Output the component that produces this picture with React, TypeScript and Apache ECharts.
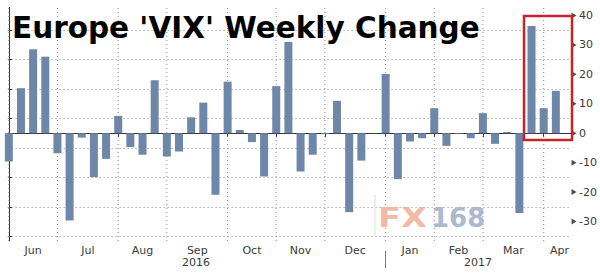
import React, { useEffect, useRef } from "react";
import * as echarts from "echarts";

// Weekly change values (one per week, early Jun 2016 -> early Apr 2017)
const weeklyChange: number[] = [
  -9.6, 15.3, 28.5, 26, -6.8, -29.6, -1.5, -14.9, -8.7, 5.9, -4.7, -7.3, 18,
  -7.9, -6.2, 5.4, 10.4, -20.9, 17.5, 1.1, -3, -14.7, 16, 31, -13, -7.3, -0.3,
  11, -26.8, -9.3, 0.1, 20.1, -15.6, -2.8, -1.7, 8.5, -4.3, -0.2, -1.7, 6.8,
  -3.6, 0.4, -27.1, 36.4, 8.5, 14.4,
];

// Week index of the first bar in each month (tick positions)
const monthTicks: number[] = [0, 4, 9, 13, 18, 22, 26, 31, 35, 39, 44];
const monthNames: string[] = ["Jun", "Jul", "Aug", "Sep", "Oct", "Nov", "Dec", "Jan", "Feb", "Mar", "Apr"];
const monthLabelPos: number[] = [2, 6.5, 11, 15.5, 20, 24, 28.5, 33, 37, 41.5, 45.3];
const yearNames: string[] = ["2016", "2017"];
const yearLabelPos: number[] = [15.4, 38.6];
const yearSplit: number[] = [31];

const yMajor: number[] = [-30, -20, -10, 0, 10, 20, 30, 40];
const yMinor: number[] = [-35, -25, -15, -5, 5, 15, 25, 35];

const X_MIN = -0.1;
const X_MAX = 46.25;
const Y_MIN = -36.6;
const Y_MAX = 42.7;

const FONT = "DejaVu Sans";
const GRID_COLOR = "#8c8c8c";

export default function App() {
  const ref = useRef<HTMLDivElement>(null);
  useEffect(() => {
    if (!ref.current) return;
    const chart = echarts.init(ref.current, undefined, { renderer: "svg" });
    const dotted = { type: [1, 3] as number[], color: GRID_COLOR, width: 1 };
    const gridSeries = monthTicks.map((v) => ({
      type: "line",
      z: 1,
      silent: true,
      symbol: "none",
      xAxisIndex: 0,
      yAxisIndex: 0,
      lineStyle: { color: GRID_COLOR, width: 1, type: [1, 3] },
      data: [
        [v, Y_MIN],
        [v, Y_MAX],
      ],
    }));
    chart.setOption({
      animation: false,
      backgroundColor: "#ffffff",
      grid: { left: 7.6, right: 27, top: 7.5, bottom: 32, containLabel: false },
      xAxis: [
        {
          type: "value",
          min: X_MIN,
          max: X_MAX,
          position: "bottom",
          axisLine: { show: true, lineStyle: { color: "#333", width: 1 } },
          axisTick: { show: true, customValues: monthTicks, length: 4, lineStyle: { color: "#333" } },
          axisLabel: {
            customValues: monthLabelPos,
            formatter: (v: number) => {
              const i = monthLabelPos.findIndex((p) => Math.abs(p - v) < 1e-6);
              return i >= 0 ? monthNames[i] : "";
            },
            margin: 4,
            color: "#3a3a3a",
            fontSize: 11,
            fontFamily: FONT,
          },
          splitLine: { show: false },
        },
        {
          type: "value",
          min: X_MIN,
          max: X_MAX,
          position: "bottom",
          offset: 10,
          axisLine: { show: false },
          axisTick: { show: true, customValues: yearSplit, length: 17, lineStyle: { color: "#777" } },
          axisLabel: {
            customValues: yearLabelPos,
            formatter: (v: number) => {
              const i = yearLabelPos.findIndex((p) => Math.abs(p - v) < 1e-6);
              return i >= 0 ? yearNames[i] : "";
            },
            margin: 6,
            color: "#3a3a3a",
            fontSize: 11,
            fontFamily: FONT,
          },
          splitLine: { show: false },
        },
      ],
      yAxis: {
        type: "value",
        position: "right",
        min: Y_MIN,
        max: Y_MAX,
        splitNumber: 8,
        axisLine: { show: true, lineStyle: { color: "#333", width: 1 } },
        axisTick: { show: true, customValues: yMinor, length: 3, lineStyle: { color: "#333" } },
        axisLabel: {
          customValues: yMajor,
          margin: 8,
          color: "#3a3a3a",
          fontSize: 11,
          fontFamily: FONT,
        },
        splitLine: { show: true, lineStyle: dotted },
      },
      series: [
        ...gridSeries,
        {
          type: "bar",
          z: 2,
          barWidth: 8,
          itemStyle: { color: "#6e86a8" },
          data: weeklyChange.map((v, i) => [i, v]),
        },
        {
          type: "scatter",
          z: 5,
          clip: false,
          symbol: "triangle",
          symbolRotate: -90,
          symbolSize: [6, 5],
          symbolOffset: [3, 0],
          itemStyle: { color: "#222" },
          silent: true,
          data: yMajor.map((v) => [X_MAX, v]),
        },
      ],
      graphic: [
        {
          type: "text",
          left: 12,
          top: 13,
          z: 10,
          style: {
            text: "Europe 'VIX' Weekly Change",
            font: `bold 29.5px "${FONT}"`,
            fill: "#000",
          },
        },
        {
          type: "rect",
          z: 10,
          shape: { x: 524, y: 16, width: 48, height: 124 },
          style: { fill: "none", stroke: "#c8232b", lineWidth: 2.5 },
        },
        {
          type: "line",
          z: 3,
          shape: { x1: 375, y1: 195, x2: 375, y2: 236 },
          style: { stroke: "#dcdcdc", lineWidth: 1 },
        },
        {
          type: "text",
          z: 3,
          x: 378,
          y: 205,
          scaleX: 1.3,
          style: { text: "FX", font: `bold 26px "${FONT}"`, fill: "#f1b29b", opacity: 0.9 },
        },
        {
          type: "text",
          z: 3,
          x: 431,
          y: 205,
          style: { text: "168", font: `bold 26px "${FONT}"`, fill: "#9fb1c7", opacity: 0.9 },
        },
      ],
    });
    return () => chart.dispose();
  }, []);
  return (
    <div
      ref={ref}
      style={{ position: "absolute", left: 0, top: 0, width: 600, height: 273 }}
    />
  );
}
